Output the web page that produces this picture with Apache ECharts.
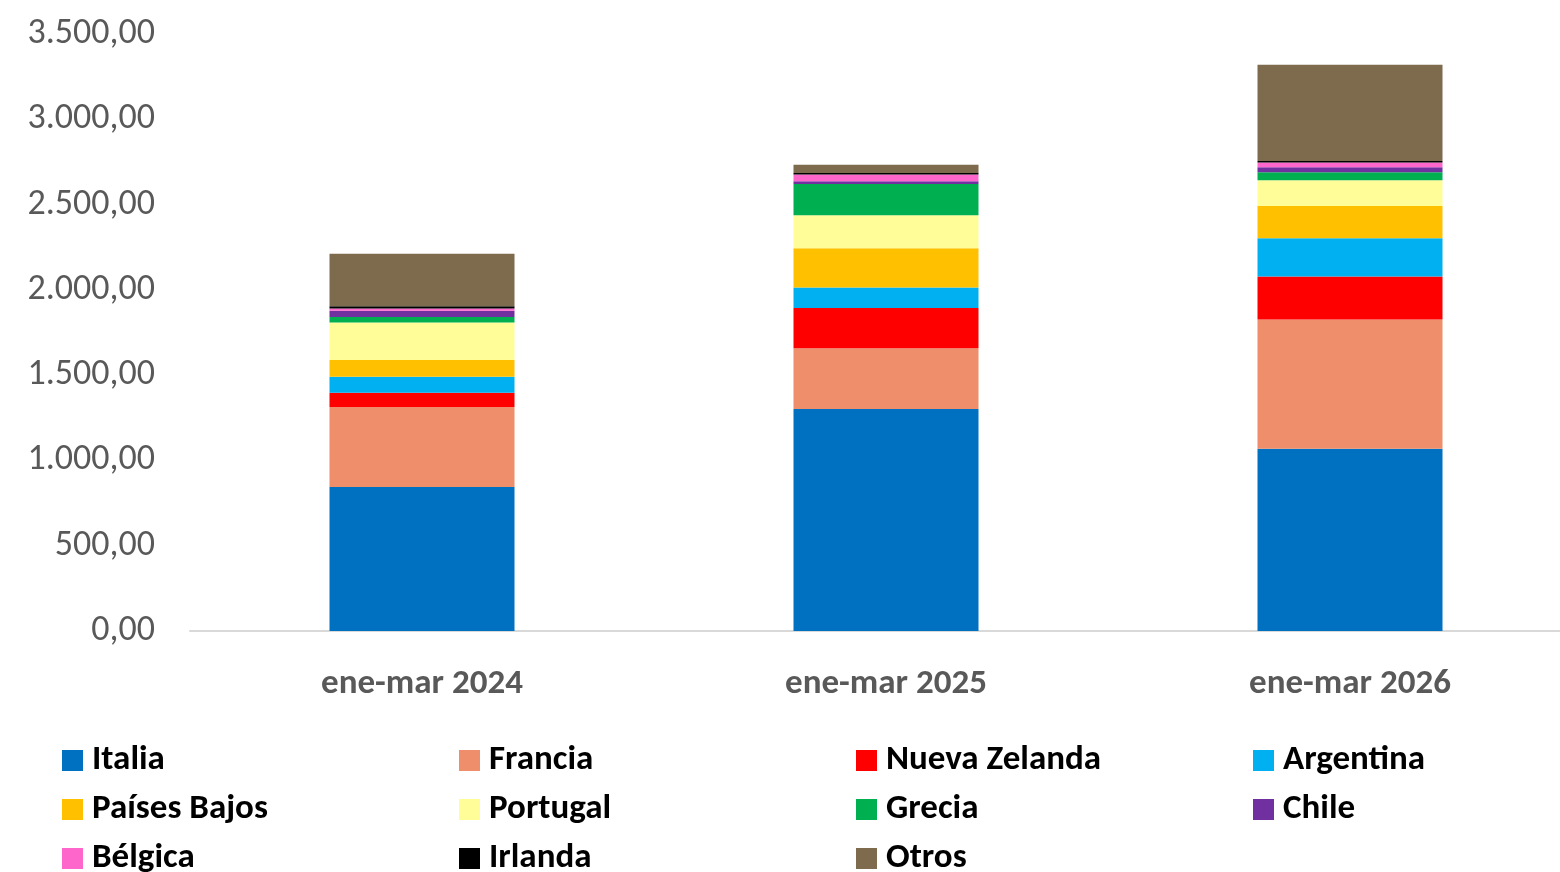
<!DOCTYPE html>
<html><head><meta charset="utf-8">
<script src="https://cdn.jsdelivr.net/npm/echarts@6/dist/echarts.min.js"></script>
<style>html,body{margin:0;padding:0;background:#fff;overflow:hidden;width:1560px;height:872px}#c{width:1582px;height:900px}</style>
</head><body><div id="c"></div>
<script>
const categories = ['ene-mar 2024', 'ene-mar 2025', 'ene-mar 2026'];
const italia = [844, 1301, 1068];
const francia = [469, 357, 758];
const nuevaZelanda = [84, 236, 252];
const argentina = [94, 120, 225];
const paisesBajos = [98, 230, 189];
const portugal = [219, 193, 151];
const grecia = [33, 183, 47];
const chile = [37, 16, 29];
const belgica = [13, 41, 28];
const irlanda = [13, 8, 9];
const otros = [307, 49, 563];
const yTicks = [0, 500, 1000, 1500, 2000, 2500, 3000, 3500];

const FONT = "Carlito, Lato, 'Open Sans', sans-serif";
const seriesDefs = [
  ['Italia', italia, '#0070C0'],
  ['Francia', francia, '#EE8E6A'],
  ['Nueva Zelanda', nuevaZelanda, '#FF0000'],
  ['Argentina', argentina, '#00B0F0'],
  ['Países Bajos', paisesBajos, '#FFC000'],
  ['Portugal', portugal, '#FFFD97'],
  ['Grecia', grecia, '#00B050'],
  ['Chile', chile, '#7030A0'],
  ['Bélgica', belgica, '#FF66CC'],
  ['Irlanda', irlanda, '#000000'],
  ['Otros', otros, '#7E6B4E']
];
function fmt(v){
  const s = Math.round(v).toString().replace(/\B(?=(\d{3})+(?!\d))/g, '.');
  return s + ',00';
}
const legendCols = [
  ['Italia', 'Países Bajos', 'Bélgica'],
  ['Francia', 'Portugal', 'Irlanda'],
  ['Nueva Zelanda', 'Grecia', 'Otros'],
  ['Argentina', 'Chile']
];
const legendLeft = [62, 459, 856, 1253];
const chart = echarts.init(document.getElementById('c'), null, {renderer: 'canvas'});
chart.setOption({
  animation: false,
  backgroundColor: '#ffffff',
  grid: {left: 190, right: 0, top: 34, bottom: 269, containLabel: false},
  xAxis: {
    type: 'category', data: categories,
    axisLine: {show: true, lineStyle: {color: '#D9D9D9', width: 2}},
    axisTick: {show: false},
    axisLabel: {color: '#595959', fontSize: 35, fontWeight: 'bold', fontFamily: FONT, margin: 36}
  },
  yAxis: {
    type: 'value', min: yTicks[0], max: yTicks[yTicks.length - 1], interval: 500,
    axisLine: {show: false}, axisTick: {show: false},
    splitLine: {show: false},
    axisLabel: {color: '#595959', fontSize: 36, fontFamily: FONT, margin: 35, padding: [6, 0, 0, 0], formatter: fmt}
  },
  legend: legendCols.map((col, i) => ({
    orient: 'vertical', left: legendLeft[i], top: 743, padding: 0,
    data: col, icon: 'rect', itemWidth: 21, itemHeight: 21, itemGap: 14,
    textStyle: {color: '#000000', fontSize: 35, fontWeight: 'bold', fontFamily: FONT, padding: [0, 0, 0, 4]},
    selectedMode: false
  })),
  series: seriesDefs.map(([name, data, color]) => ({
    name, type: 'bar', stack: 'total', data, barWidth: 185,
    itemStyle: {color},
    emphasis: {disabled: true}
  }))
});
</script></body></html>
